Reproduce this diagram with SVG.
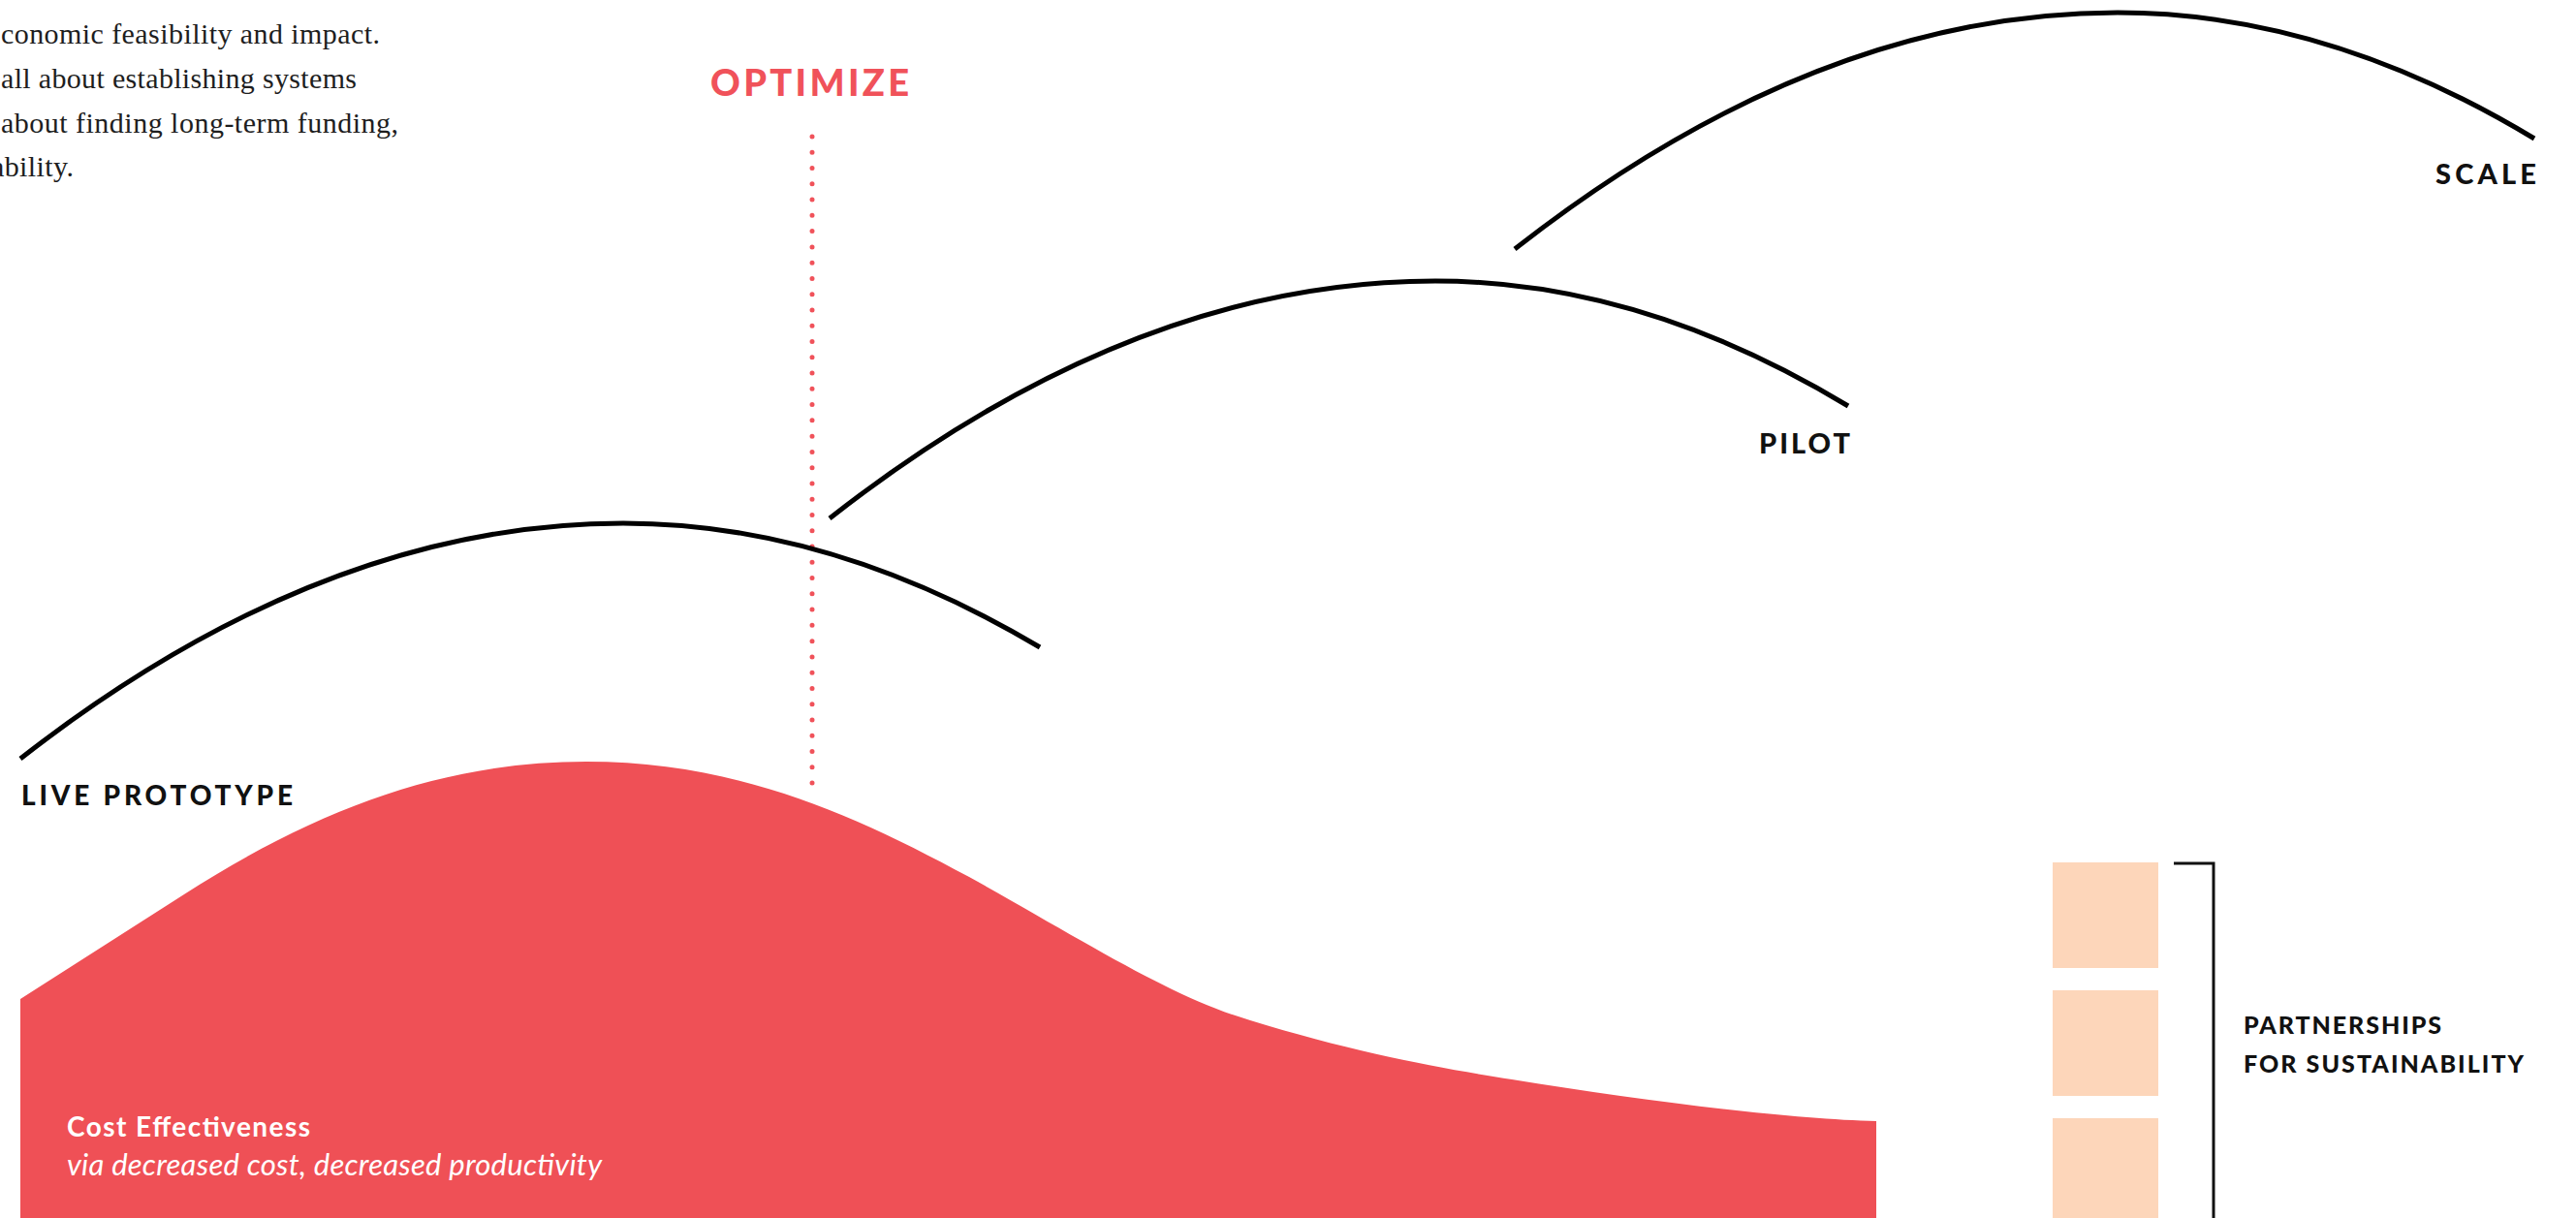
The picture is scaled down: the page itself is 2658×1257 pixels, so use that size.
<svg xmlns="http://www.w3.org/2000/svg" width="2658" height="1257" viewBox="0 0 2658 1257">
  <style>
    .intro { font-family: "Liberation Serif", "DejaVu Serif", serif; font-size: 30px; fill: #1e1e1e; }
    .stage { font-family: Lato, "Liberation Sans", sans-serif; font-weight: 900; fill: #111111; }
    .arc { fill: none; stroke: #000000; stroke-width: 5; stroke-linecap: butt; }
    .opt { font-family: Lato, "Liberation Sans", sans-serif; font-weight: 900; font-size: 38px; fill: #F0525A; }
    .cost-title { font-family: Lato, "Liberation Sans", sans-serif; font-weight: 700; font-size: 28px; fill: #ffffff; }
    .cost-sub { font-family: Lato, "Liberation Sans", sans-serif; font-style: italic; font-size: 31px; fill: #ffffff; }
    .peach { fill: #FDD6BA; }
    .bracket { fill: none; stroke: #111111; stroke-width: 3; }
    .dots { stroke: #F0525A; stroke-width: 5; stroke-linecap: round; stroke-dasharray: 0 16.27; }
  </style>
  <rect x="0" y="0" width="2658" height="1257" fill="#ffffff"/>

  <g id="intro-text">
    <text class="intro" x="1" y="45" textLength="391" lengthAdjust="spacing">conomic feasibility and impact.</text>
    <text class="intro" x="1" y="91" textLength="367" lengthAdjust="spacing">all about establishing systems</text>
    <text class="intro" x="1" y="137" textLength="410" lengthAdjust="spacing">about finding long-term funding,</text>
    <text class="intro" x="-9" y="182" textLength="85" lengthAdjust="spacing">ability.</text>
  </g>

  <g id="cost-effectiveness">
    <path fill="#EF5056" d="M21,1031 L190,923 C 330,833 460,786 605,786 C 760,786 880,840 1000,905 C 1120,972 1210,1030 1290,1053 C 1400,1087 1490,1103 1560,1114 C 1700,1137 1850,1155 1936,1157 L1936,1257 L21,1257 Z"/>
    <text class="cost-title" x="69" y="1173" textLength="251" lengthAdjust="spacing">Cost Effectiveness</text>
    <text class="cost-sub" x="69" y="1213" textLength="552" lengthAdjust="spacing">via decreased cost, decreased productivity</text>
  </g>

  <g id="connectors">
    <line class="dots" x1="838" y1="141" x2="838" y2="810"/>
  </g>

  <g id="optimize">
    <text class="opt" x="733" y="99" textLength="205" lengthAdjust="spacing">OPTIMIZE</text>
  </g>

  <g id="live-prototype">
    <path class="arc" d="M21,783 Q332,540 643,540 Q858,540 1073,668"/>
    <text class="stage" x="22" y="831" font-size="28" textLength="280" lengthAdjust="spacing">LIVE PROTOTYPE</text>
  </g>

  <g id="pilot">
    <path class="arc" d="M856,535 Q1168,290 1481,290 Q1694,290 1907,419"/>
    <text class="stage" x="1815" y="468" font-size="29" textLength="94" lengthAdjust="spacing">PILOT</text>
  </g>

  <g id="scale">
    <path class="arc" d="M1563,257 Q1874,13 2185,13 Q2400,13 2615,143"/>
    <text class="stage" x="2513" y="190" font-size="29" textLength="104" lengthAdjust="spacing">SCALE</text>
  </g>

  <g id="partnerships">
    <rect class="peach" x="2118" y="890" width="109" height="109"/>
    <rect class="peach" x="2118" y="1022" width="109" height="109"/>
    <rect class="peach" x="2118" y="1154" width="109" height="109"/>
    <path class="bracket" d="M2243,891 H2284 V1257"/>
    <text class="stage" x="2315" y="1067" font-size="25" textLength="204" lengthAdjust="spacing">PARTNERSHIPS</text>
    <text class="stage" x="2315" y="1107" font-size="25" textLength="289" lengthAdjust="spacing">FOR SUSTAINABILITY</text>
  </g>
</svg>
